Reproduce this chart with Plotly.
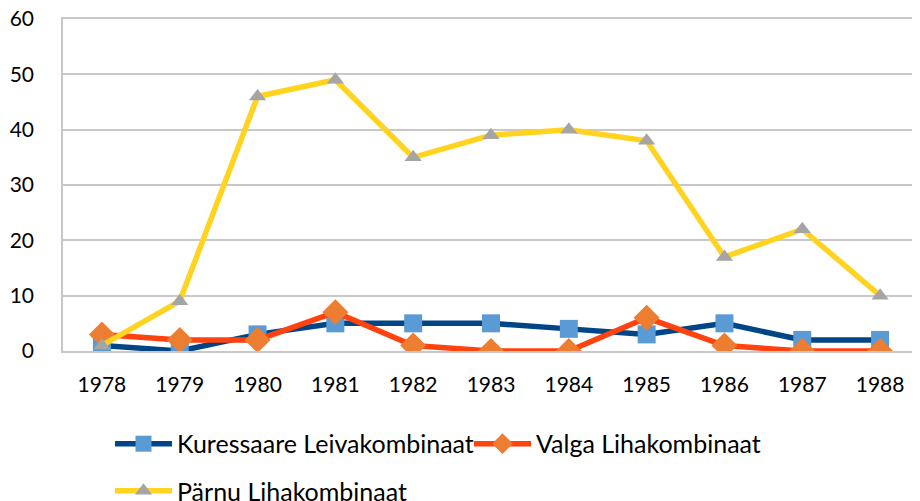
import plotly.graph_objects as go

years = ["1978", "1979", "1980", "1981", "1982", "1983", "1984", "1985", "1986", "1987", "1988"]
kuressaare = [1, 0, 3, 5, 5, 5, 4, 3, 5, 2, 2]
valga = [3, 2, 2, 7, 1, 0, 0, 6, 1, 0, 0]
parnu = [1, 9, 46, 49, 35, 39, 40, 38, 17, 22, 10]

fig = go.Figure()
fig.add_trace(go.Scatter(
    x=years, y=kuressaare, name="Kuressaare Leivakombinaat", mode="lines+markers",
    line=dict(color="#004586", width=5.5),
    marker=dict(symbol="square", size=18, color="#5B9BD5"), legend="legend"))
fig.add_trace(go.Scatter(
    x=years, y=valga, name="Valga Lihakombinaat", mode="lines+markers",
    line=dict(color="#FF420E", width=5.5),
    marker=dict(symbol="diamond", size=20, color="#ED7D31"), legend="legend2"))
fig.add_trace(go.Scatter(
    x=years, y=parnu, name="Pärnu Lihakombinaat", mode="lines+markers",
    line=dict(color="#FFD320", width=5.5),
    marker=dict(symbol="triangle-up", size=15, color="#A5A5A5"), legend="legend3"))

font = "Lato, Carlito, Calibri, sans-serif"
leg = dict(orientation="h", xanchor="left", yanchor="middle",
           font=dict(size=25, family=font, color="black"), itemwidth=57,
           bgcolor="rgba(0,0,0,0)")
fig.update_layout(
    width=912, height=493,
    margin=dict(l=55, r=1, t=11, b=150, autoexpand=False),
    paper_bgcolor="white", plot_bgcolor="white",
    font=dict(family=font, size=21, color="black"),
    showlegend=True,
    legend=dict(leg, x=0.0549, y=-0.280),
    legend2=dict(leg, x=0.4743, y=-0.280),
    legend3=dict(leg, x=0.0549, y=-0.422),
    xaxis=dict(type="category", range=[-0.5, 10.5], showgrid=False, automargin=False,
               showline=True, linecolor="#C8C8C8", linewidth=1.5, mirror=True,
               ticks="", tickfont=dict(size=21), ticklabelstandoff=14),
    yaxis=dict(range=[0, 60], dtick=10, showgrid=True, gridcolor="#C8C8C8", gridwidth=1.5,
               automargin=False, ticklabeloverflow="allow",
               showline=True, linecolor="#C8C8C8", linewidth=1.5, mirror=True,
               zeroline=False, ticks="", tickfont=dict(size=21), ticklabelstandoff=23),
)
fig.write_html("out.html")
